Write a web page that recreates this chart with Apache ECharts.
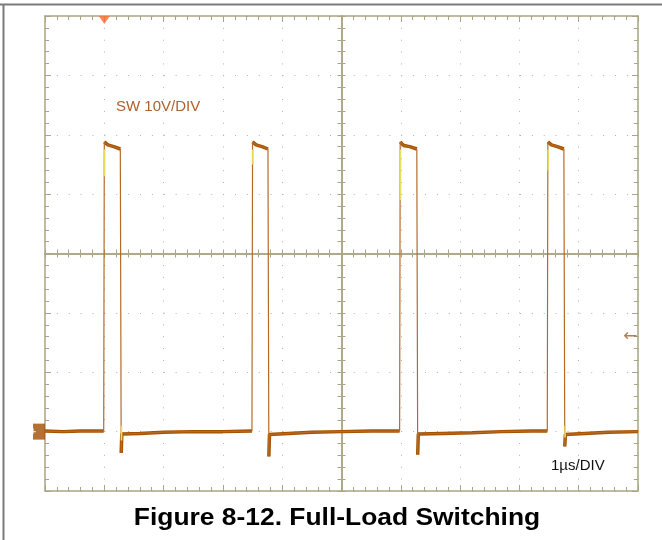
<!DOCTYPE html>
<html>
<head>
<meta charset="utf-8">
<script src="https://cdn.jsdelivr.net/npm/echarts@6/dist/echarts.min.js"></script>
<style>html,body{margin:0;padding:0;background:#fff}#c{width:662px;height:540px}</style>
</head>
<body>
<div id="c"></div>
<script>
// time axis (µs) and voltage axis (V) definitions
const xRange = [0, 10];          // 1 µs / div
const yRange = [-10, 70];        // 10 V / div, ground at 0
// SW node waveform read from the scope capture: time (µs)
const swTime = [
  0.00, 0.30, 0.60, 0.99,
  1.00, 1.06, 1.16, 1.27, 1.285, 1.295, 1.31, 1.60, 2.00, 2.50, 3.00, 3.49,
  3.50, 3.56, 3.66, 3.76, 3.775, 3.785, 3.80, 4.10, 4.50, 5.00, 5.50, 5.98,
  5.99, 6.05, 6.15, 6.27, 6.285, 6.295, 6.31, 6.70, 7.20, 7.70, 8.20, 8.47,
  8.48, 8.54, 8.64, 8.75, 8.765, 8.775, 8.79, 9.10, 9.50, 10.00
];
// SW node voltage (V)
const swVolt = [
  0.1, 0.0, 0.1, 0.1,
  48.8, 48.3, 48.0, 47.6, -3.6, -0.4, -0.4, -0.3, -0.1, 0.0, 0.0, 0.1,
  48.8, 48.3, 48.0, 47.6, -4.2, -0.5, -0.5, -0.3, -0.1, 0.0, 0.1, 0.1,
  48.8, 48.2, 48.0, 47.6, -3.9, -0.4, -0.4, -0.3, -0.2, 0.0, 0.1, 0.1,
  48.8, 48.3, 48.0, 47.6, -2.5, -0.5, -0.5, -0.3, -0.1, 0.0
];
// faint yellow second trace visible on the rising edges: time (µs) and voltage (V)
const yelTime = [1.005, 1.005, 1.29, 1.29, 3.505, 3.505, 5.995, 5.995, 8.485, 8.485, 8.77, 8.77];
const yelVolt = [47.5, 43.0, 1.0, -1.5, 47.5, 45.0, 47.5, 39.0, 47.5, 44.0, 1.0, -1.0];
const triggerTime = 1.0;     // trigger position marker (top)
const triggerLevel = 15.8;   // trigger level arrow (right)
const groundLevel = 0;       // channel ground marker (left)

const traceData = swTime.map((t, i) => [t, swVolt[i]]);
// thick (noisy) flat portions: break the line at fast edges
const flatData = [];
for (let i = 0; i < traceData.length; i++) {
  if (i > 0 && Math.abs(swVolt[i] - swVolt[i - 1]) > 10) flatData.push([swTime[i], null]);
  flatData.push(traceData[i]);
}
// yellow segments come in pairs
const yelData = [];
for (let i = 0; i < yelTime.length; i += 2) {
  yelData.push([yelTime[i], yelVolt[i]], [yelTime[i + 1], yelVolt[i + 1]], [yelTime[i + 1], null]);
}

const gridCol = '#aaa585';
const dotCol = '#b9b49c';
const traceCol = '#a65300';

function borderAxis(pos, isX, extra) {
  return Object.assign({
    type: 'value', gridIndex: 0, position: pos,
    min: isX ? xRange[0] : yRange[0], max: isX ? xRange[1] : yRange[1],
    interval: isX ? 1 : 10,
    axisLine: { show: true, onZero: false, lineStyle: { color: gridCol, width: 1.5 } },
    axisTick: { show: true, inside: true, length: 6, lineStyle: { color: gridCol, width: 1 } },
    minorTick: { show: true, splitNumber: 5, length: 4, lineStyle: { color: gridCol, width: 1 } },
    axisLabel: { show: false },
    splitLine: { show: false },
    minorSplitLine: { show: false }
  }, extra || {});
}

const xAxes = [
  borderAxis('bottom', true, {
    splitLine: { show: true, lineStyle: { color: dotCol, width: 1, type: [1, 10.86] } }
  }),
  borderAxis('top', true),
  borderAxis('bottom', true, { offset: -237.5, axisTick: { show: true, inside: false, length: 4, lineStyle: { color: gridCol } } }),
  borderAxis('bottom', true, { offset: -237.5, axisTick: { show: true, inside: true, length: 4, lineStyle: { color: gridCol } } })
];
const yAxes = [
  borderAxis('left', false, {
    splitLine: { show: true, lineStyle: { color: dotCol, width: 1, type: [1, 10.875] } }
  }),
  borderAxis('right', false),
  borderAxis('left', false, { offset: -296.5, axisTick: { show: true, inside: false, length: 4, lineStyle: { color: gridCol } } }),
  borderAxis('left', false, { offset: -296.5, axisTick: { show: true, inside: true, length: 4, lineStyle: { color: gridCol } } })
];

const chart = echarts.init(document.getElementById('c'), null, { renderer: 'canvas' });
chart.setOption({
  animation: false,
  backgroundColor: '#ffffff',
  grid: { left: 45, right: 24, top: 16, bottom: 49, containLabel: false, outerBoundsMode: 'none' },
  xAxis: xAxes,
  yAxis: yAxes,
  graphic: [
    { type: 'line', shape: { x1: 0, y1: 4.5, x2: 662, y2: 4.5 }, style: { stroke: '#7a7a7a', lineWidth: 2 }, z: 10 },
    { type: 'line', shape: { x1: 3.5, y1: 4, x2: 3.5, y2: 540 }, style: { stroke: '#7a7a7a', lineWidth: 2 }, z: 10 },
    { type: 'text', x: 116, y: 107, style: { text: 'SW 10V/DIV', fill: '#b0602a', font: '15px "Liberation Sans", Arial, sans-serif', textVerticalAlign: 'middle' }, z: 10 },
    { type: 'text', x: 551, y: 466, style: { text: '1µs/DIV', fill: '#111111', font: '15px "Liberation Sans", Arial, sans-serif', textVerticalAlign: 'middle' }, z: 10 },
    { type: 'text', x: 337, y: 518, scaleX: 1.1, style: { text: 'Figure 8-12. Full-Load Switching', fill: '#000000', font: 'bold 24px "Liberation Sans", Arial, sans-serif', textAlign: 'center', textVerticalAlign: 'middle' }, z: 10 }
  ],
  series: [
    {
      type: 'line', xAxisIndex: 0, yAxisIndex: 0, data: flatData, showSymbol: false, symbol: 'none',
      lineStyle: { color: traceCol, width: 3.5 }, connectNulls: false, z: 3
    },
    {
      type: 'line', xAxisIndex: 0, yAxisIndex: 0, data: traceData, showSymbol: false, symbol: 'none',
      lineStyle: { color: '#b56a28', width: 1.2 }, z: 4
    },
    {
      type: 'line', xAxisIndex: 0, yAxisIndex: 0, data: yelData, showSymbol: false, symbol: 'none',
      lineStyle: { color: '#e6df5a', width: 1.6 }, connectNulls: false, z: 5
    },
    {
      type: 'scatter', xAxisIndex: 0, yAxisIndex: 0, clip: false, silent: true,
      data: [[triggerTime, yRange[1]]], symbol: 'triangle', symbolRotate: 180,
      symbolSize: [11, 8], symbolOffset: [0, 4], itemStyle: { color: '#ff6a2a' }, z: 6
    },
    {
      type: 'scatter', xAxisIndex: 0, yAxisIndex: 0, clip: false, silent: true,
      data: [[xRange[0], groundLevel]], symbol: 'rect',
      symbolSize: [12, 16], symbolOffset: [-6, 0], itemStyle: { color: '#a04d00' },
      label: { show: true, formatter: '+', color: '#ffffff', fontSize: 11, fontWeight: 'bold', position: 'inside', offset: [-6, 0] }, z: 6
    },
    {
      type: 'scatter', xAxisIndex: 0, yAxisIndex: 0, clip: false, silent: true,
      data: [[xRange[1], triggerLevel]], symbol: 'rect', symbolSize: [1, 1],
      itemStyle: { color: 'rgba(0,0,0,0)' },
      label: { show: true, formatter: '←', position: 'left', distance: 0, color: '#a85a20',
               fontSize: 17, fontFamily: 'DejaVu Sans', offset: [0, -1] }, z: 6
    }
  ]
});
</script>
</body>
</html>
